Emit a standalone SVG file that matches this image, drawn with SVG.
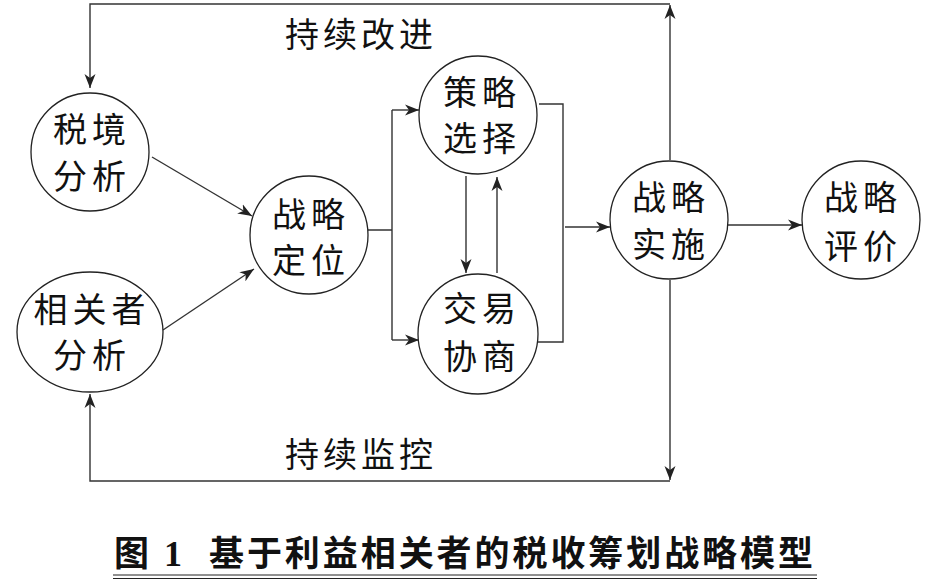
<svg xmlns="http://www.w3.org/2000/svg" width="928" height="582" viewBox="0 0 928 582">
<style>
.nd{fill:#fff;stroke:#222;stroke-width:1.3}
.t{font-family:"Noto Sans CJK SC","Noto Sans CJK JP",sans-serif;font-size:34px;fill:#111;text-anchor:middle;letter-spacing:5px}
.lb{font-family:"Noto Sans CJK SC","Noto Sans CJK JP",sans-serif;font-size:34px;fill:#111;letter-spacing:4px}
.ln{fill:none;stroke:#333;stroke-width:1.4}
.ti{font-family:"Noto Sans CJK SC","Noto Sans CJK JP",sans-serif;font-size:35px;font-weight:bold;fill:#111}
</style>
<defs>
<marker id="ar" markerUnits="userSpaceOnUse" markerWidth="15" markerHeight="12" viewBox="0 0 15 12" refX="14" refY="6" orient="auto">
<path d="M0,0.5 L14,6 L0,11.5 L4,6 z" fill="#222"/>
</marker>
</defs>
<rect width="928" height="582" fill="#fff"/>
<g id="connectors">
<path class="ln" d="M152,157 L252,216" marker-end="url(#ar)"/>
<path class="ln" d="M163,330 L254,269" marker-end="url(#ar)"/>
<path class="ln" d="M368,230 H392 M392,110 V340"/>
<path class="ln" d="M392,110 H419" marker-end="url(#ar)"/>
<path class="ln" d="M392,340 H419" marker-end="url(#ar)"/>
<path class="ln" d="M466,176 V273" marker-end="url(#ar)"/>
<path class="ln" d="M497,273 V177" marker-end="url(#ar)"/>
<path class="ln" d="M539,104 H563 V342 H538"/>
<path class="ln" d="M565,227 H610" marker-end="url(#ar)"/>
<path class="ln" d="M728,225 H802" marker-end="url(#ar)"/>
<path class="ln" d="M670,160 V5" marker-end="url(#ar)"/>
<path class="ln" d="M670,4 H90 V88" marker-end="url(#ar)"/>
<path class="ln" d="M670,280 V480" marker-end="url(#ar)"/>
<path class="ln" d="M670,481 H90 V394" marker-end="url(#ar)"/>
</g>
<g id="n1">
<circle class="nd" cx="90" cy="152" r="59"/>
<text class="t"><tspan x="92" y="142">税境</tspan><tspan x="92" y="189">分析</tspan></text>
</g>
<g id="n2">
<ellipse class="nd" cx="90" cy="332" rx="73" ry="60"/>
<text class="t"><tspan x="92" y="322">相关者</tspan><tspan x="92" y="368">分析</tspan></text>
</g>
<g id="n3">
<circle class="nd" cx="309" cy="235" r="59"/>
<text class="t"><tspan x="311" y="227">战略</tspan><tspan x="311" y="273">定位</tspan></text>
</g>
<g id="n4">
<circle class="nd" cx="478" cy="115" r="59"/>
<text class="t"><tspan x="482" y="105">策略</tspan><tspan x="482" y="151">选择</tspan></text>
</g>
<g id="n5">
<circle class="nd" cx="478" cy="334" r="60"/>
<text class="t"><tspan x="482" y="321">交易</tspan><tspan x="482" y="369">协商</tspan></text>
</g>
<g id="n6">
<circle class="nd" cx="669" cy="220" r="59"/>
<text class="t"><tspan x="671" y="210">战略</tspan><tspan x="671" y="257">实施</tspan></text>
</g>
<g id="n7">
<circle class="nd" cx="861" cy="220" r="59"/>
<text class="t"><tspan x="863" y="210">战略</tspan><tspan x="863" y="259">评价</tspan></text>
</g>
<g id="labels">
<text class="lb" x="285" y="47">持续改进</text>
<text class="lb" x="285" y="467">持续监控</text>
</g>
<g id="title">
<text class="ti" x="114" y="566">图</text>
<text x="164" y="566" font-family="Liberation Serif, serif" font-size="36" font-weight="bold" fill="#111">1</text>
<text class="ti" x="209" y="566" textLength="604" lengthAdjust="spacing">基于利益相关者的税收筹划战略模型</text>
<path d="M113,575 H817 M113,578.5 H817" stroke="#222" stroke-width="1"/>
</g>
</svg>
